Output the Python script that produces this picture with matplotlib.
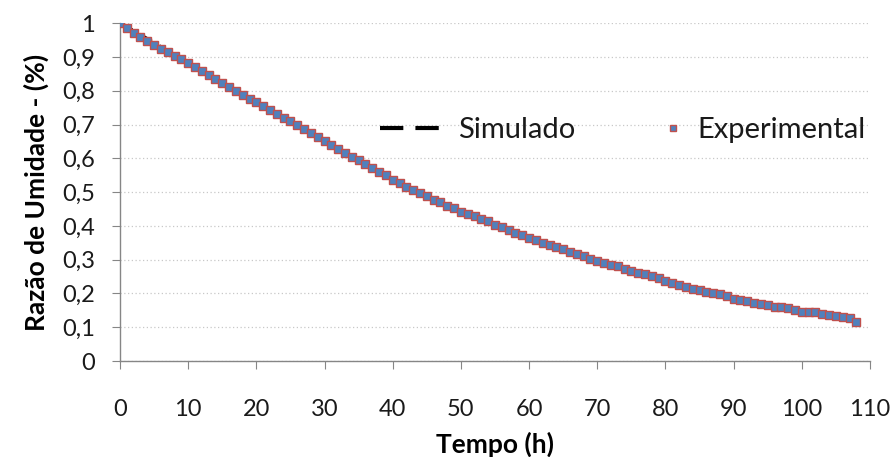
import matplotlib
matplotlib.use("Agg")
import matplotlib.pyplot as plt
from matplotlib.lines import Line2D

# Experimental data (hourly)
tempo_exp = list(range(0, 109))
razao_exp = [
    1.000, 0.985, 0.970, 0.958, 0.947, 0.936, 0.924, 0.914, 0.904, 0.893,
    0.882, 0.870, 0.858, 0.847, 0.835, 0.824, 0.812, 0.801, 0.789, 0.777,
    0.767, 0.755, 0.744, 0.732, 0.720, 0.710, 0.698, 0.686, 0.674, 0.662,
    0.650, 0.640, 0.628, 0.616, 0.604, 0.594, 0.584, 0.572, 0.560, 0.550,
    0.536, 0.526, 0.516, 0.507, 0.497, 0.488, 0.478, 0.470, 0.460, 0.452,
    0.442, 0.436, 0.428, 0.420, 0.414, 0.404, 0.396, 0.388, 0.380, 0.372,
    0.364, 0.358, 0.350, 0.344, 0.339, 0.332, 0.324, 0.318, 0.310, 0.303,
    0.295, 0.290, 0.285, 0.280, 0.272, 0.266, 0.261, 0.258, 0.252, 0.246,
    0.236, 0.232, 0.226, 0.220, 0.214, 0.210, 0.205, 0.201, 0.198, 0.192,
    0.183, 0.180, 0.177, 0.173, 0.170, 0.167, 0.160, 0.160, 0.156, 0.152,
    0.146, 0.146, 0.145, 0.140, 0.137, 0.134, 0.130, 0.126, 0.115,
]

# Simulated model curve
tempo_sim = [0, 2, 4, 6, 8, 10, 14, 18, 22, 26, 30, 35, 40, 45, 50, 55, 60,
             65, 70, 75, 80, 85, 90, 95, 100, 104, 108]
razao_sim = [1.000, 0.978, 0.954, 0.930, 0.906, 0.882, 0.836, 0.790, 0.744,
             0.698, 0.652, 0.594, 0.538, 0.488, 0.442, 0.402, 0.364, 0.330,
             0.298, 0.270, 0.240, 0.212, 0.186, 0.166, 0.148, 0.134, 0.118]

xticks = [0, 10, 20, 30, 40, 50, 60, 70, 80, 90, 100, 110]
yticks = [0, 0.1, 0.2, 0.3, 0.4, 0.5, 0.6, 0.7, 0.8, 0.9, 1.0]
ytick_labels = ["0", "0,1", "0,2", "0,3", "0,4", "0,5", "0,6", "0,7", "0,8", "0,9", "1"]

plt.rcParams['font.family'] = ['Lato', 'DejaVu Sans']

W, H = 892, 457
fig = plt.figure(figsize=(W / 100, H / 100), dpi=100)
ax = fig.add_axes([120/W, 1-361/H, 750/W, (361-23.3)/H])

ax.plot(tempo_sim, razao_sim, color='black', linestyle=(0, (4, 2.5)), linewidth=2.5,
        zorder=2)
ax.plot(tempo_exp, razao_exp, linestyle='none', marker='s', markersize=6,
        markerfacecolor='#4F81BD', markeredgecolor='#C0504D', markeredgewidth=1.0,
        zorder=3)

ax.set_xlim(0, 110)
ax.set_ylim(0, 1)
ax.set_xticks(xticks)
ax.set_xticklabels([str(v) for v in xticks])
ax.set_yticks(yticks)
ax.set_yticklabels(ytick_labels)

for s in ['top', 'right']:
    ax.spines[s].set_visible(False)
for s in ['left', 'bottom']:
    ax.spines[s].set_color('#868686')
    ax.spines[s].set_linewidth(1.0)

ax.tick_params(axis='x', direction='out', length=6, color='#868686', pad=21,
               labelsize=17, labelcolor='#1a1a1a')
ax.tick_params(axis='y', direction='out', length=6, color='#868686', pad=12,
               labelsize=17, labelcolor='#1a1a1a')

ax.yaxis.grid(True, color='#c8c8c8', linestyle=(0, (1, 2)), linewidth=0.9)
ax.set_axisbelow(True)

ax.set_xlabel('Tempo (h)', fontsize=19, fontweight='bold', labelpad=9)
ax.set_ylabel('Razão de Umidade - (%)', fontsize=19, fontweight='bold', labelpad=9)

fs = 21
h_sim = Line2D([], [], color='black', linestyle=(0, (5.6, 2.9)), linewidth=3.0)
h_exp = Line2D([], [], linestyle='none', marker='s', markersize=5,
               markerfacecolor='#4F81BD', markeredgecolor='#C0504D', markeredgewidth=1.0)
leg1 = ax.legend([h_sim], ['Simulado'], loc='center left',
                 bbox_to_anchor=(380 / W, 1 - 130 / H), bbox_transform=fig.transFigure,
                 frameon=False, fontsize=fs, handlelength=65 / (fs * 100 / 72),
                 handletextpad=13 / (fs * 100 / 72), borderpad=0, borderaxespad=0)
ax.add_artist(leg1)
leg2 = ax.legend([h_exp], ['Experimental'], loc='center left',
                 bbox_to_anchor=(661 / W, 1 - 130 / H), bbox_transform=fig.transFigure,
                 frameon=False, fontsize=fs, handlelength=23 / (fs * 100 / 72),
                 handletextpad=13 / (fs * 100 / 72), borderpad=0, borderaxespad=0)
for lg in (leg1, leg2):
    for t in lg.get_texts():
        t.set_color('#1a1a1a')

fig.savefig('out.png', dpi=100)
